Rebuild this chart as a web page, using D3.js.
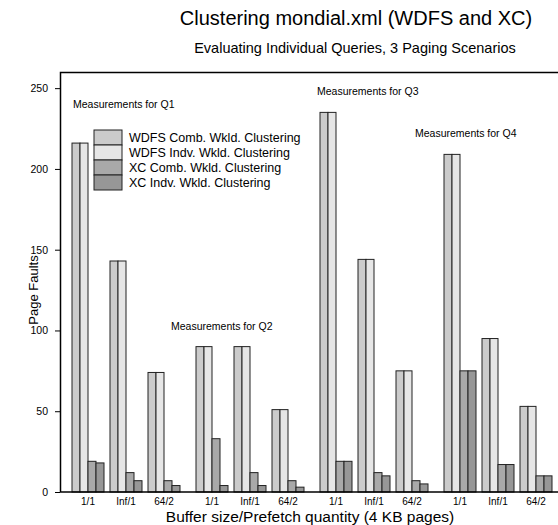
<!DOCTYPE html>
<html>
<head>
<meta charset="utf-8">
<script src="https://cdn.jsdelivr.net/npm/d3@7"></script>
<style>
  body { margin: 0; background: #fff; }
  text { font-family: "Liberation Sans", Arial, sans-serif; fill: #000; }
</style>
</head>
<body>
<div id="graph"></div>
<script>
// chart values
var queries = ["Q1", "Q2", "Q3", "Q4"];
var scenarios = ["1/1", "Inf/1", "64/2"];
var seriesNames = ["WDFS Comb. Wkld. Clustering", "WDFS Indv. Wkld. Clustering",
                   "XC Comb. Wkld. Clustering", "XC Indv. Wkld. Clustering"];
// one value per query/scenario (Q1 1/1, Q1 Inf/1, Q1 64/2, Q2 1/1, ...)
var wdfsComb = [216, 143, 74, 90, 90, 51, 235, 144, 75, 209, 95, 53];
var wdfsIndv = [216, 143, 74, 90, 90, 51, 235, 144, 75, 209, 95, 53];
var xcComb   = [19, 12, 7, 33, 12, 7, 19, 12, 7, 75, 17, 10];
var xcIndv   = [18, 7, 4, 4, 4, 3, 19, 10, 5, 75, 17, 10];
var yTicks = [0, 50, 100, 150, 200, 250];
var notes = ["Measurements for Q1", "Measurements for Q2", "Measurements for Q3", "Measurements for Q4"];

var seriesValues = [wdfsComb, wdfsIndv, xcComb, xcIndv];
var colors = ["#cbcbcb", "#e6e6e6", "#a9a9a9", "#979797"];

var width = 558;
var height = 525;

var svg = d3.select("#graph")
  .append("svg")
  .attr("width", width)
  .attr("height", height);

// scales
var x0 = d3.scaleBand()
  .domain(queries)
  .range([72, 552])
  .paddingInner(16 / 124)
  .paddingOuter(0);

var x1 = d3.scaleBand()
  .domain(scenarios)
  .range([0, x0.bandwidth()])
  .paddingInner(6 / 38)
  .paddingOuter(0);

var x2 = d3.scaleBand()
  .domain(d3.range(seriesNames.length))
  .range([0, x1.bandwidth()]);

var yScale = d3.scaleLinear()
  .domain([0, 260])
  .range([492, 72]);

// titles
svg.append("text")
  .attr("x", 356).attr("y", 25)
  .attr("text-anchor", "middle")
  .style("font-size", "20px")
  .text("Clustering mondial.xml (WDFS and XC)");

svg.append("text")
  .attr("x", 355).attr("y", 53)
  .attr("text-anchor", "middle")
  .style("font-size", "14.5px")
  .text("Evaluating Individual Queries, 3 Paging Scenarios");

// frame (top line and left axis)
svg.append("path")
  .attr("d", "M60.5," + yScale(0) + "V72.5H560")
  .attr("fill", "none")
  .attr("stroke", "#000")
  .attr("stroke-width", 1.5);

// bars
var rows = [];
queries.forEach(function(q, qi) {
  scenarios.forEach(function(s, si) {
    seriesValues.forEach(function(vals, k) {
      rows.push({ q: q, s: s, k: k, v: vals[qi * scenarios.length + si] });
    });
  });
});

svg.append("g")
  .selectAll("rect")
  .data(rows)
  .enter()
  .append("rect")
  .attr("x", function(d) { return x0(d.q) + x1(d.s) + x2(d.k); })
  .attr("y", function(d) { return yScale(d.v); })
  .attr("width", x2.bandwidth())
  .attr("height", function(d) { return yScale(0) - yScale(d.v); })
  .attr("fill", function(d) { return colors[d.k]; })
  .attr("stroke", "#222")
  .attr("stroke-width", 1);

// baseline
svg.append("line")
  .attr("x1", 60).attr("x2", 560)
  .attr("y1", yScale(0)).attr("y2", yScale(0))
  .attr("stroke", "#000")
  .attr("stroke-width", 1.5);

// y axis
var yAxis = svg.append("g")
  .attr("transform", "translate(60,0)")
  .call(d3.axisLeft(yScale).tickValues(yTicks).tickSize(5).tickPadding(7));
yAxis.select(".domain").remove();
yAxis.selectAll("text").style("font-size", "10.5px").attr("fill", "#000");

// x tick labels
var xLabels = svg.append("g");
queries.forEach(function(q) {
  scenarios.forEach(function(s) {
    xLabels.append("text")
      .attr("x", x0(q) + x1(s) + x1.bandwidth() / 2)
      .attr("y", 505)
      .attr("text-anchor", "middle")
      .style("font-size", "10px")
      .text(s);
  });
});

// axis titles
svg.append("text")
  .attr("x", 310).attr("y", 522)
  .attr("text-anchor", "middle")
  .style("font-size", "15.5px")
  .text("Buffer size/Prefetch quantity (4 KB pages)");

svg.append("text")
  .attr("transform", "translate(38,290) rotate(-90)")
  .attr("text-anchor", "middle")
  .style("font-size", "13px")
  .text("Page Faults");

// measurement notes
var noteX = [1, -25, -3, -29];
var noteV = [238, 100, 246, 220];
queries.forEach(function(q, i) {
  svg.append("text")
    .attr("x", x0(q) + noteX[i])
    .attr("y", yScale(noteV[i]))
    .style("font-size", "10.5px")
    .text(notes[i]);
});

// legend
var legend = svg.append("g").attr("transform", "translate(94,130)");
seriesNames.forEach(function(name, k) {
  legend.append("rect")
    .attr("x", 0).attr("y", k * 15)
    .attr("width", 28).attr("height", 15)
    .attr("fill", colors[k])
    .attr("stroke", "#222");
  legend.append("text")
    .attr("x", 35).attr("y", k * 15 + 11.5)
    .style("font-size", "12.5px")
    .text(name);
});
</script>
</body>
</html>
